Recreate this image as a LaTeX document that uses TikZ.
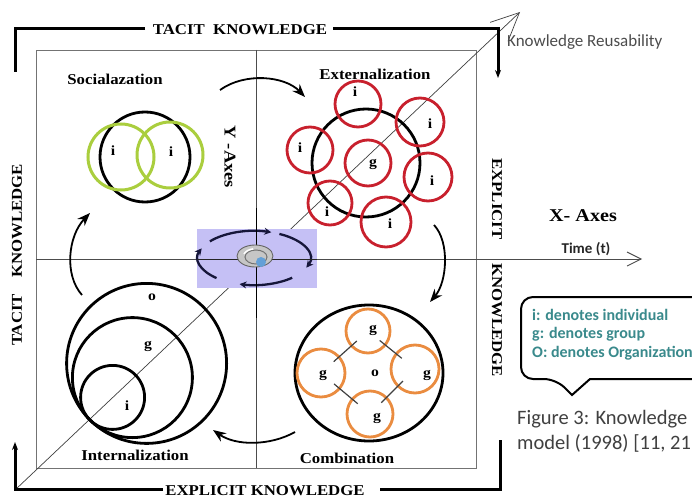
\documentclass[tikz,border=0pt]{standalone}
\usepackage{fontspec}
\setmainfont{Liberation Serif}
\newfontfamily\wserif{Liberation Serif}[FakeStretch=1.12]
\newfontfamily\carl{Carlito}
\usetikzlibrary{arrows.meta}
\definecolor{redc}{RGB}{200,32,45}
\definecolor{greenc}{RGB}{170,206,62}
\definecolor{orangec}{RGB}{234,140,64}
\definecolor{tealc}{RGB}{58,138,140}
\definecolor{lav}{RGB}{197,192,245}
\definecolor{navy}{RGB}{22,22,58}
\definecolor{capgray}{RGB}{64,64,64}
\definecolor{bluedot}{RGB}{100,160,215}
\begin{document}
\begin{tikzpicture}[x=1pt,y=-1pt,
  ob/.style={line width=3pt, black},
  framel/.style={draw=black!55, line width=0.9pt},
  axisl/.style={draw=black!70, line width=0.9pt},
  diag/.style={draw=black!75, line width=0.7pt},
  cyc/.style={line width=1.8pt, -{Stealth[length=13pt,width=10pt]}},
  cyca/.style={draw=navy, line width=2.3pt, -{Stealth[length=7pt,width=7pt]}},
  rc/.style={circle, draw=redc, line width=2.8pt, inner sep=0pt, outer sep=0pt, minimum size=#1pt},
  oc/.style={circle, draw=orangec, line width=2.8pt, inner sep=0pt, outer sep=0pt, minimum size=#1pt},
  gc/.style={circle, draw=greenc, line width=3pt, inner sep=0pt, outer sep=0pt, minimum size=#1pt},
  blk/.style={draw=black, line width=2.8pt},
  conn/.style={draw=black!75, line width=1.2pt, shorten <=-7pt, shorten >=-7pt},
  lbl/.style={font=\wserif\bfseries\fontsize{14}{16}\selectfont, inner sep=0pt},
  big/.style={font=\wserif\bfseries\fontsize{15}{17}\selectfont, inner sep=1pt},
  leg/.style={font=\carl\bfseries\fontsize{16}{18}\selectfont, text=tealc, anchor=west, inner sep=0pt},
  captxt/.style={font=\carl\fontsize{20.5}{24}\selectfont, text=capgray, anchor=west, inner sep=0pt}
]
\useasboundingbox (0,0) rectangle (692,497);
\clip (0,0) rectangle (692,497);
\fill[white] (0,0) rectangle (692,497);

% inner frame and axes
\draw[framel] (36,50) rectangle (476,468);
\coordinate (vt) at (256,50); \coordinate (vb) at (256,468);
\draw[axisl] (vt) -- (vb);
\coordinate (hl) at (36,259); \coordinate (hr) at (642,259);
\draw[axisl, -{Straight Barb[length=14pt,width=14pt]}] (hl) -- (hr);
\coordinate (dg0) at (15,490); \coordinate (dg1) at (520,12);
\draw[diag, -{Straight Barb[length=28pt,width=26pt]}] (dg0) -- (dg1);

% outer bracket
\node[big, anchor=base] (tk) at (240,35) {TACIT\ \ KNOWLEDGE};
\coordinate (t1) at (145,29); \coordinate (t2) at (15,29); \coordinate (t3) at (15,72);
\draw[ob] (t1) -- (t2) -- (t3);
\coordinate (t4) at (333,29); \coordinate (t5) at (498,29); \coordinate (t6) at (498,78);
\draw[ob, -{Stealth[length=8pt,width=6pt]}] (t4) -- (t5) -- (t6);
\node[big, anchor=base] (ek) at (265,495) {EXPLICIT KNOWLEDGE};
\coordinate (b1) at (163,489); \coordinate (b2) at (15,489); \coordinate (b3) at (15,442);
\draw[ob, -{Stealth[length=8pt,width=6pt]}] (b1) -- (b2) -- (b3);
\coordinate (b4) at (380,489); \coordinate (b5) at (500,489); \coordinate (b6) at (500,440);
\draw[ob] (b4) -- (b5) -- (b6);
\node[big, rotate=90] (lk) at (17,221) {KNOWLEDGE};
\node[big, rotate=90] (lt) at (17,320) {TACIT};
\node[big, rotate=-90] (re) at (497,199) {EXPLICIT};
\node[big, rotate=-90] (rk) at (497,320) {KNOWLEDGE};

% axis labels
\node[big, rotate=-90, font=\wserif\bfseries\fontsize{16.5}{18}\selectfont] (ya) at (230,157) {Y -Axes};
\node[big, font=\wserif\bfseries\fontsize{18}{20}\selectfont] (xa) at (583,216) {X- Axes};
\node[font=\carl\bfseries\fontsize{15}{17}\selectfont, text=black!85, inner sep=0pt] (tt) at (586,249) {Time (t)};
\node[font=\carl\fontsize{17}{19}\selectfont, text=black!70, anchor=west, inner sep=0pt] (kr) at (507,42) {Knowledge Reusability};

% quadrant labels
\node[big] (qs) at (115,79) {Socialazation};
\node[big] (qe) at (375,74) {Externalization};
\node[big] (qi) at (135,455) {Internalization};
\node[big] (qc) at (347,458) {Combination};

% socialization
\draw[blk] (145,157) circle[radius=45];
\node[gc=66] (sa) at (121,157) {};
\node[gc=66] (sb) at (170,155) {};
\node[lbl] at (113,151) {i};
\node[lbl] at (171,152) {i};

% externalization
\draw[blk] (366,163) circle[radius=54];
\node[rc=46] (e1) at (358,104) {};
\node[rc=48] (e2) at (420,122) {};
\node[rc=48] (e3) at (428,177) {};
\node[rc=50] (e4) at (386,222) {};
\node[rc=46] (eg) at (368,163) {};
\node[rc=46] (e5) at (310,150) {};
\node[rc=44] (e6) at (330,203) {};
\node[lbl] at (355,92) {i};
\node[lbl] at (430,124) {i};
\node[lbl] at (432,181) {i};
\node[lbl] at (390,224) {i};
\node[lbl] at (373,164) {g};
\node[lbl] at (300,148) {i};
\node[lbl] at (327,212) {i};

% internalization
\draw[blk] (146.6,363.4) circle[radius=80];
\draw[blk] (132.4,377.6) circle[radius=60];
\draw[blk] (112.6,397.4) circle[radius=32];
\node[lbl] at (152,297) {o};
\node[lbl] at (148,346) {g};
\node[lbl] at (127,406) {i};

% combination
\draw[blk] (369,373) ellipse[x radius=74, y radius=68];
\node[oc=44] (ct) at (368,331) {};
\node[oc=48] (cr) at (415,369) {};
\node[oc=48] (cl) at (321,373) {};
\node[oc=46] (cb) at (370,414) {};
\draw[conn] (ct) -- (cl);
\draw[conn] (ct) -- (cr);
\draw[conn] (cl) -- (cb);
\draw[conn] (cr) -- (cb);
\node[lbl] at (373,330) {g};
\node[lbl] at (427,375) {g};
\node[lbl] at (323,375) {g};
\node[lbl] at (377,418) {g};
\node[lbl] at (375,373) {o};

% cycle arrows
\coordinate (a1s) at (220,90); \coordinate (a1e) at (305,97);
\draw[cyc] (a1s) .. controls (245,72) and (285,76) .. (a1e);
\coordinate (a2s) at (434,225); \coordinate (a2e) at (430,302);
\draw[cyc] (a2s) .. controls (450,242) and (447,282) .. (a2e);
\coordinate (a3s) at (295,432); \coordinate (a3e) at (213,430);
\draw[cyc] (a3s) .. controls (270,446) and (236,446) .. (a3e);
\coordinate (a4s) at (82,295); \coordinate (a4e) at (90,213);
\draw[cyc] (a4s) .. controls (64,275) and (68,236) .. (a4e);

% centre graphic
\node[fill=lav, minimum width=120pt, minimum height=59pt, inner sep=0pt] (cg) at (257,258.5) {};
\coordinate (ctr) at (254,258);
\draw[cyca] ([shift={(218:56 and 27)}]ctr) arc[start angle=218, end angle=288, x radius=56, y radius=27];
\draw[cyca] ([shift={(297:56 and 27)}]ctr) arc[start angle=297, end angle=381, x radius=56, y radius=27];
\draw[cyca] ([shift={(47:56 and 27)}]ctr) arc[start angle=47, end angle=105, x radius=56, y radius=27];
\draw[cyca] ([shift={(132:56 and 27)}]ctr) arc[start angle=132, end angle=201, x radius=56, y radius=27];
\draw[black, line width=1pt] (256,208) -- (256,318);
\draw[black!85, line width=1pt] (197,259) -- (317,259);
\fill[gray!45] (255,256) ellipse[x radius=18, y radius=11];
\draw[black!60, line width=0.9pt] (255,256) ellipse[x radius=18, y radius=11];
\draw[black!55, line width=1pt] (256,257) ellipse[x radius=11, y radius=7];
\draw[white, line width=1.5pt] (244,254) arc[start angle=200, end angle=260, x radius=12, y radius=8];
\fill[bluedot] (261,262) circle[radius=5];

% legend
\draw[line width=2pt, rounded corners=12pt] (720,297) -- (521,297) -- (521,379) -- (556,379) [sharp corners] -- (572,395) -- (590,379) [rounded corners=12pt] -- (720,379);
\node[leg] (l1) at (532,315) {i: denotes individual};
\node[leg] (l2) at (532,334) {g: denotes group};
\node[leg] (l3) at (532,353) {O: denotes Organization};

% caption
\node[captxt] (c1) at (517,419) {Figure 3: Knowledge};
\node[captxt] (c2) at (517,443) {model (1998) [11, 21};
\end{tikzpicture}
\end{document}
